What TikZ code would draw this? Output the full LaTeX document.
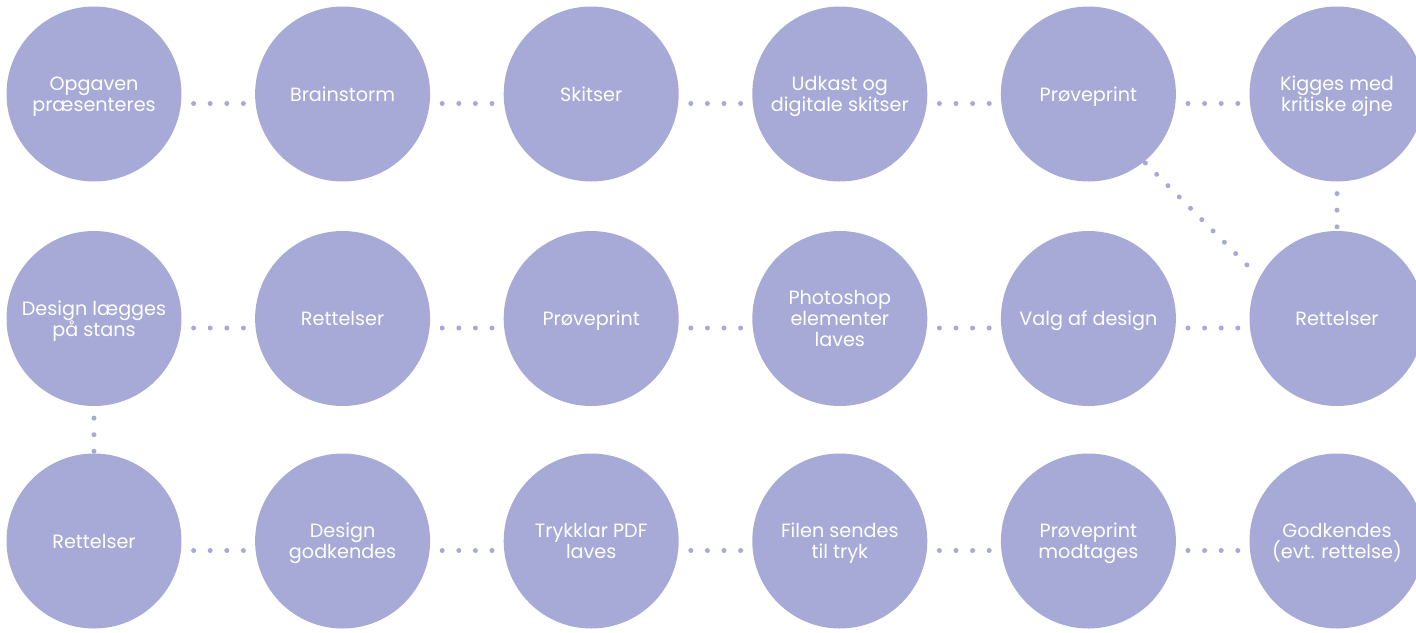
\documentclass[tikz,border=0pt]{standalone}
\usepackage{fontspec}
\setmainfont{Poppins}
\usetikzlibrary{backgrounds}
\definecolor{lav}{HTML}{A7AAD6}
\begin{document}
\begin{tikzpicture}[x=1pt,y=-1pt,
  stage/.style={circle, fill=lav, minimum size=175pt, inner sep=0pt, text=white, align=center, text depth=0pt, font=\fontsize{19.2}{21}\selectfont},
  dots/.style={draw=lav, line width=5pt, line cap=round, dash pattern=on 0pt off 16.6pt}]
\useasboundingbox (0,0) rectangle (1416,632);
\clip (0,0) rectangle (1416,632);
% row 1
\node[stage] (a1) at (94,94) {Opgaven\\præsenteres};
\node[stage] (a2) at (342.6,94) {Brainstorm};
\node[stage] (a3) at (591.2,94) {Skitser};
\node[stage] (a4) at (839.8,94) {Udkast og\\digitale skitser};
\node[stage] (a5) at (1088.4,94) {Prøveprint};
\node[stage] (a6) at (1337,94) {Kigges med\\kritiske øjne};
% row 2
\node[stage] (b1) at (94,318.5) {Design lægges\\på stans};
\node[stage] (b2) at (342.6,318.5) {Rettelser};
\node[stage] (b3) at (591.2,318.5) {Prøveprint};
\node[stage] (b4) at (839.8,318.5) {Photoshop\\elementer\\laves};
\node[stage] (b5) at (1088.4,318.5) {Valg af design};
\node[stage] (b6) at (1337,318.5) {Rettelser};
% row 3
\node[stage] (c1) at (94,541) {Rettelser};
\node[stage] (c2) at (342.6,541) {Design\\godkendes};
\node[stage] (c3) at (591.2,541) {Trykklar PDF\\laves};
\node[stage] (c4) at (839.8,541) {Filen sendes\\til tryk};
\node[stage] (c5) at (1088.4,541) {Prøveprint\\modtages};
\node[stage] (c6) at (1337,541) {Godkendes\\(evt. rettelse)};
\coordinate (d1) at ([shift={(57,69)}]a5.center);
\coordinate (d2) at ([shift={(-79,-42.5)}]b6.center);
\begin{scope}[on background layer]
\foreach \r in {a,b,c}{
  \foreach \i [evaluate=\i as \j using int(\i+1)] in {1,...,5}{
    \draw[dots] ([yshift=-9.5pt]\r\i.center) -- ([yshift=-9.5pt]\r\j.center);
  }
}
\draw[dots] (a6.center) -- (b6.center);
\draw[dots] (b1.center) -- (c1.center);
\draw[dots, dash pattern=on 0pt off 15.98pt] (d1) -- (d2);
\end{scope}
\end{tikzpicture}
\end{document}
